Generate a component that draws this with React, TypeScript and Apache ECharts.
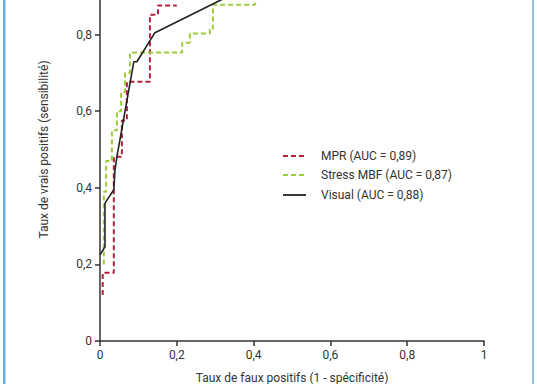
import React, { useEffect, useRef } from "react";
import * as echarts from "echarts";

const mprData: [number, number][] = [
  [0.007, 0.12], [0.007, 0.178], [0.036, 0.178], [0.036, 0.481], [0.057, 0.481],
  [0.057, 0.576], [0.07, 0.576], [0.07, 0.677], [0.13, 0.677], [0.13, 0.852],
  [0.151, 0.852], [0.151, 0.876], [0.2, 0.876],
];
const stressData: [number, number][] = [
  [0.01, 0.2], [0.01, 0.39], [0.016, 0.39], [0.016, 0.47], [0.031, 0.47],
  [0.031, 0.55], [0.044, 0.55], [0.044, 0.6], [0.055, 0.6], [0.055, 0.65],
  [0.065, 0.65], [0.065, 0.7], [0.078, 0.7], [0.078, 0.753], [0.214, 0.753],
  [0.214, 0.779], [0.234, 0.779], [0.234, 0.803], [0.286, 0.803], [0.286, 0.813],
  [0.294, 0.813], [0.294, 0.878], [0.404, 0.878], [0.404, 0.93],
];
const visualData: [number, number][] = [
  [0, 0.225], [0.013, 0.246], [0.013, 0.36], [0.036, 0.395], [0.039, 0.447],
  [0.044, 0.481], [0.088, 0.729], [0.096, 0.729], [0.143, 0.805], [0.32, 0.893],
];
const seriesNames = ["MPR (AUC = 0,89)", "Stress MBF (AUC = 0,87)", "Visual (AUC = 0,88)"];
const seriesColors = ["#b3203c", "#9fcb3f", "#222222"];
const xName = "Taux de faux positifs (1 - spécificité)";
const yName = "Taux de vrais positifs (sensibilité)";

const OFFSET = 42;

export default function App() {
  const ref = useRef<HTMLDivElement>(null);
  useEffect(() => {
    if (!ref.current) return;
    const chart = echarts.init(ref.current, null, { renderer: "svg" });
    const fmt = (v: number) => String(Math.round(v * 10) / 10).replace(".", ",");
    const axisCommon = {
      type: "value" as const,
      min: 0,
      max: 1,
      interval: 0.2,
      splitLine: { show: false },
      axisLine: { show: true, lineStyle: { color: "#333", width: 1.5 } },
      axisTick: { show: true, length: 5, lineStyle: { color: "#333", width: 1.5 } },
      axisLabel: { color: "#333", fontSize: 12, fontFamily: "Roboto", formatter: fmt },
      nameLocation: "middle" as const,
      nameTextStyle: { color: "#333", fontSize: 12, fontFamily: "Roboto" },
    };
    const legendY = [156, 175, 195];
    const legendGraphics: any[] = [];
    seriesNames.forEach((n, i) => {
      legendGraphics.push({
        type: "line",
        shape: { x1: 283, y1: legendY[i] + OFFSET, x2: 306, y2: legendY[i] + OFFSET },
        style: {
          stroke: seriesColors[i],
          lineWidth: i === 2 ? 1.8 : 2,
          lineDash: i === 2 ? null : [5, 3],
        },
      });
      legendGraphics.push({
        type: "text",
        x: 321,
        y: legendY[i] + OFFSET,
        style: {
          text: n,
          fill: "#333",
          fontSize: 12,
          fontFamily: "Roboto",
          verticalAlign: "middle",
        },
      });
    });
    chart.setOption({
      animation: false,
      backgroundColor: "#ffffff",
      grid: { left: 100, right: 54, top: 0, bottom: 43, containLabel: false, outerBoundsMode: "none" },
      xAxis: { ...axisCommon, name: xName, nameGap: 31 },
      yAxis: {
        ...axisCommon,
        name: yName,
        nameGap: 50,
        axisLabel: { ...axisCommon.axisLabel, showMaxLabel: false },
      },
      series: [
        {
          name: seriesNames[0], type: "line", data: mprData, showSymbol: false, symbol: "none",
          lineStyle: { color: seriesColors[0], width: 2, type: [5, 3] },
        },
        {
          name: seriesNames[1], type: "line", data: stressData, showSymbol: false, symbol: "none",
          lineStyle: { color: seriesColors[1], width: 2, type: [5, 3] },
        },
        {
          name: seriesNames[2], type: "line", data: visualData, showSymbol: false, symbol: "none",
          lineStyle: { color: seriesColors[2], width: 1.6 },
        },
      ],
      graphic: [
        ...legendGraphics,
        { type: "rect", shape: { x: 3, y: 0, width: 2.5, height: 384 + OFFSET }, style: { fill: "#62b0db" } },
        { type: "rect", shape: { x: 532, y: 0, width: 2, height: 384 + OFFSET }, style: { fill: "#8cc6e6" } },
      ],
    });
    return () => chart.dispose();
  }, []);
  return (
    <div
      ref={ref}
      style={{ position: "fixed", left: 0, top: -OFFSET, width: 538, height: 384 + OFFSET }}
    />
  );
}
